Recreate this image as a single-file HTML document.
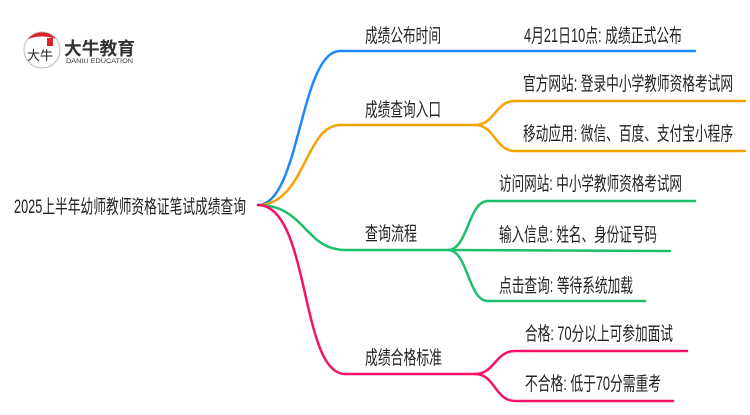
<!DOCTYPE html>
<html><head><meta charset="utf-8"><style>
body{margin:0;background:#fff;width:750px;height:410px;overflow:hidden}
text{font-family:"Liberation Sans","Noto Sans CJK SC",sans-serif;font-size:19px;fill:#222}
</style></head><body>
<svg width="750" height="410" viewBox="0 0 750 410" xmlns="http://www.w3.org/2000/svg">
<g fill="none" stroke-width="2.5" stroke-linecap="round">
<path d="M258,205 C300,205 300,51 340,51 L695,51" stroke="#1e88f5"/>
<path d="M258,205 C305,205 305,125 340,125 L475,125" stroke="#f5a300"/>
<path d="M475,125 C495,125 495,101 515,101 L745,101" stroke="#f5a300"/>
<path d="M475,125 C495,125 495,151 515,151 L745,151" stroke="#f5a300"/>
<path d="M258,205 C305,205 305,250 345,250 L448,250" stroke="#1dbf6b"/>
<path d="M448,250 C468,250 468,201 488,201 L695,201" stroke="#1dbf6b"/>
<path d="M448,250 L670,251" stroke="#1dbf6b"/>
<path d="M448,250 C468,250 468,301 488,301 L645,301" stroke="#1dbf6b"/>
<path d="M258,205 C310,205 300,374 345,374 L475,374" stroke="#f5116b"/>
<path d="M475,374 C495,374 495,351 515,351 L687,351" stroke="#f5116b"/>
<path d="M475,374 C495,374 495,401 515,401 L673,401" stroke="#f5116b"/>
</g>
<circle cx="42" cy="50" r="18" fill="#fff" stroke="#bbb"/>
<path d="M28,39 A18,18 0 0 1 56,39 Q42,34 28,39 Z" fill="#d9232a"/>
<rect x="47" y="38" width="6" height="8" fill="#d9232a"/>
<text x="27" y="60" style="font-size:13px">大牛</text>
<text x="64" y="55" textLength="71" lengthAdjust="spacingAndGlyphs" style="font-size:18px;font-weight:bold;fill:#333">大牛教育</text>
<text x="66" y="63" textLength="67" lengthAdjust="spacingAndGlyphs" style="font-size:6px;fill:#333">DANIU EDUCATION</text>
<text x="14" y="213" textLength="232" lengthAdjust="spacingAndGlyphs">2025上半年幼师教师资格证笔试成绩查询</text>
<text x="365" y="42" textLength="76" lengthAdjust="spacingAndGlyphs">成绩公布时间</text>
<text x="524" y="42" textLength="158" lengthAdjust="spacingAndGlyphs">4月21日10点: 成绩正式公布</text>
<text x="365" y="116" textLength="76" lengthAdjust="spacingAndGlyphs">成绩查询入口</text>
<text x="523" y="90" textLength="210" lengthAdjust="spacingAndGlyphs">官方网站: 登录中小学教师资格考试网</text>
<text x="523" y="140" textLength="210" lengthAdjust="spacingAndGlyphs">移动应用: 微信、百度、支付宝小程序</text>
<text x="365" y="240" textLength="52" lengthAdjust="spacingAndGlyphs">查询流程</text>
<text x="499" y="190" textLength="183" lengthAdjust="spacingAndGlyphs">访问网站: 中小学教师资格考试网</text>
<text x="499" y="241" textLength="158" lengthAdjust="spacingAndGlyphs">输入信息: 姓名、身份证号码</text>
<text x="499" y="292" textLength="134" lengthAdjust="spacingAndGlyphs">点击查询: 等待系统加载</text>
<text x="365" y="364" textLength="77" lengthAdjust="spacingAndGlyphs">成绩合格标准</text>
<text x="525" y="340" textLength="148" lengthAdjust="spacingAndGlyphs">合格: 70分以上可参加面试</text>
<text x="525" y="390" textLength="136" lengthAdjust="spacingAndGlyphs">不合格: 低于70分需重考</text>
</svg>
</body></html>
